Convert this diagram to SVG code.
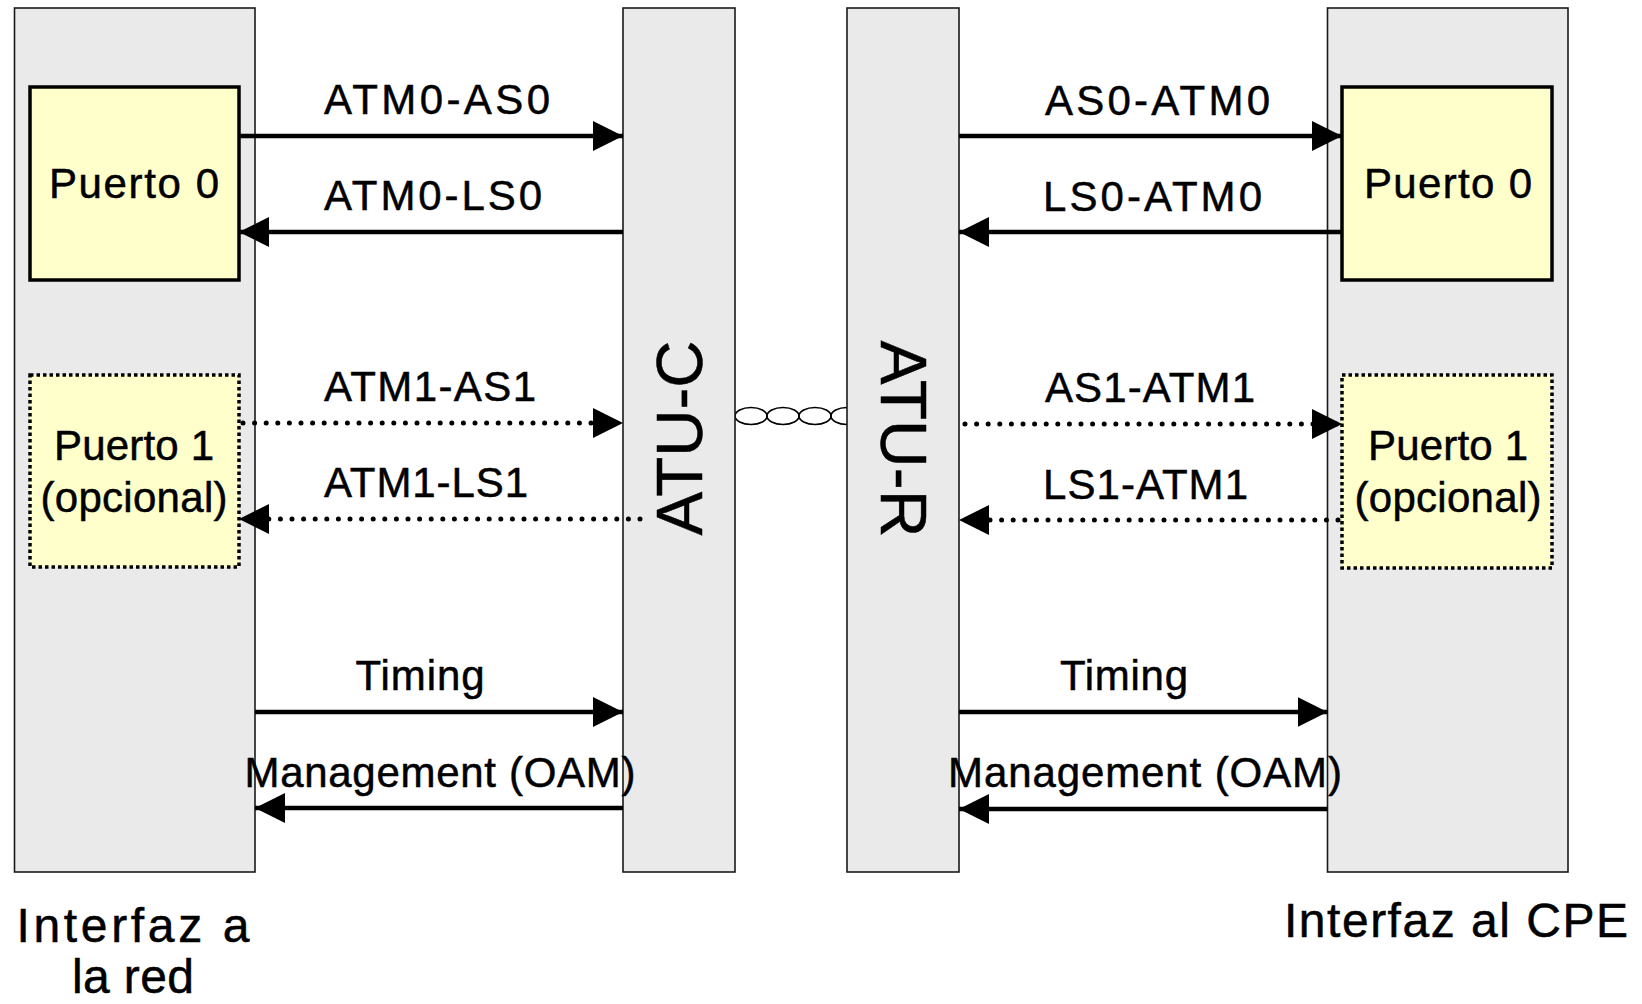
<svg xmlns="http://www.w3.org/2000/svg" width="1642" height="1004" viewBox="0 0 1642 1004">
<defs>
<style>
.panel{fill:#EAEAEA;stroke:#1a1a1a;stroke-width:1.6}
.port{fill:#FFFFCC;stroke:#000;stroke-width:3.5}
.opt{fill:#FFFFCC;stroke:#000;stroke-width:3.5;stroke-dasharray:3.5 3}
.t{font-family:"Liberation Sans",Arial,sans-serif;fill:#000;stroke:#000;stroke-width:0.5}
.lbl{font-size:42px}
.big{font-size:48px}
.atu{font-size:65px}
.solid{stroke:#000;stroke-width:4.5;fill:none;marker-end:url(#ah)}
.dot{stroke:#000;stroke-width:5;fill:none;stroke-dasharray:0 11.6;stroke-linecap:round;marker-end:url(#ah)}
.chain{fill:none;stroke:#000;stroke-width:1.6}
</style>
<marker id="ah" markerUnits="userSpaceOnUse" markerWidth="30" markerHeight="30" refX="30" refY="15" orient="auto" viewBox="0 0 30 30">
<path d="M0,0 L30,15 L0,30 Z" fill="#000" stroke="none"/>
</marker>
</defs>
<rect width="1642" height="1004" fill="#fff"/>

<g id="chain">
<ellipse class="chain" cx="751" cy="416" rx="16" ry="8.5"/>
<ellipse class="chain" cx="783" cy="416" rx="16" ry="8.5"/>
<ellipse class="chain" cx="815" cy="416" rx="16" ry="8.5"/>
<ellipse class="chain" cx="847" cy="416" rx="16" ry="8.5"/>
</g>

<g id="net-iface">
<rect class="panel" x="14.5" y="8" width="240.5" height="864"/>
</g>
<g id="atu-c">
<rect class="panel" x="623" y="8" width="112" height="864"/>
<text class="t atu" text-anchor="middle" transform="translate(702,438) rotate(-90)" textLength="195" lengthAdjust="spacingAndGlyphs">ATU-C</text>
</g>
<g id="atu-r">
<rect class="panel" x="847" y="8" width="112" height="864"/>
<text class="t atu" text-anchor="middle" transform="translate(881,439) rotate(90)" textLength="197" lengthAdjust="spacingAndGlyphs">ATU-R</text>
</g>
<g id="cpe-iface">
<rect class="panel" x="1327.5" y="8" width="240.5" height="864"/>
</g>

<g id="puerto0-left">
<rect class="port" x="30" y="87" width="209" height="193"/>
<text class="t lbl" x="134" y="198" text-anchor="middle" textLength="170" lengthAdjust="spacing">Puerto 0</text>
</g>
<g id="puerto1-left">
<rect class="opt" x="30" y="375" width="209" height="192"/>
<text class="t lbl" x="134" y="460" text-anchor="middle" textLength="160" lengthAdjust="spacing">Puerto 1</text>
<text class="t lbl" x="134" y="512" text-anchor="middle" textLength="187" lengthAdjust="spacing">(opcional)</text>
</g>
<g id="puerto0-right">
<rect class="port" x="1342" y="87" width="210" height="193"/>
<text class="t lbl" x="1448" y="198" text-anchor="middle" textLength="168" lengthAdjust="spacing">Puerto 0</text>
</g>
<g id="puerto1-right">
<rect class="opt" x="1342" y="375" width="210" height="193"/>
<text class="t lbl" x="1448" y="460" text-anchor="middle" textLength="160" lengthAdjust="spacing">Puerto 1</text>
<text class="t lbl" x="1448" y="512" text-anchor="middle" textLength="187" lengthAdjust="spacing">(opcional)</text>
</g>

<g id="connectors">
<path class="solid" d="M239,136 H623"/>
<path class="solid" d="M623,232 H239"/>
<path class="dot" d="M243,423 H623"/>
<path class="dot" d="M640,519 H239"/>
<path class="solid" d="M255,712 H623"/>
<path class="solid" d="M623,808 H255"/>

<path class="solid" d="M959,136 H1342"/>
<path class="solid" d="M1342,232 H959"/>
<path class="dot" d="M965,424 H1342"/>
<path class="dot" d="M1338,520 H959"/>
<path class="solid" d="M959,712 H1327.5"/>
<path class="solid" d="M1327.5,809 H959"/>
</g>

<g id="labels">
<text class="t lbl" x="324" y="114" textLength="226" lengthAdjust="spacing">ATM0-AS0</text>
<text class="t lbl" x="324" y="210" textLength="218" lengthAdjust="spacing">ATM0-LS0</text>
<text class="t lbl" x="324" y="401" textLength="212" lengthAdjust="spacing">ATM1-AS1</text>
<text class="t lbl" x="324" y="497" textLength="204" lengthAdjust="spacing">ATM1-LS1</text>
<text class="t lbl" x="420" y="690" text-anchor="middle" textLength="129" lengthAdjust="spacing">Timing</text>
<text class="t lbl" x="440" y="787" text-anchor="middle" textLength="391" lengthAdjust="spacing">Management (OAM)</text>

<text class="t lbl" x="1045" y="115" textLength="225" lengthAdjust="spacing">AS0-ATM0</text>
<text class="t lbl" x="1043" y="211" textLength="219" lengthAdjust="spacing">LS0-ATM0</text>
<text class="t lbl" x="1045" y="402" textLength="210" lengthAdjust="spacing">AS1-ATM1</text>
<text class="t lbl" x="1043" y="499" textLength="205" lengthAdjust="spacing">LS1-ATM1</text>
<text class="t lbl" x="1124" y="690" text-anchor="middle" textLength="128" lengthAdjust="spacing">Timing</text>
<text class="t lbl" x="1145" y="787" text-anchor="middle" textLength="394" lengthAdjust="spacing">Management (OAM)</text>

<text class="t big" x="133" y="942" text-anchor="middle" textLength="233" lengthAdjust="spacing">Interfaz a</text>
<text class="t big" x="133" y="993" text-anchor="middle" textLength="122" lengthAdjust="spacing">la red</text>
<text class="t big" x="1456" y="937" text-anchor="middle" textLength="344" lengthAdjust="spacing">Interfaz al CPE</text>
</g>
</svg>
